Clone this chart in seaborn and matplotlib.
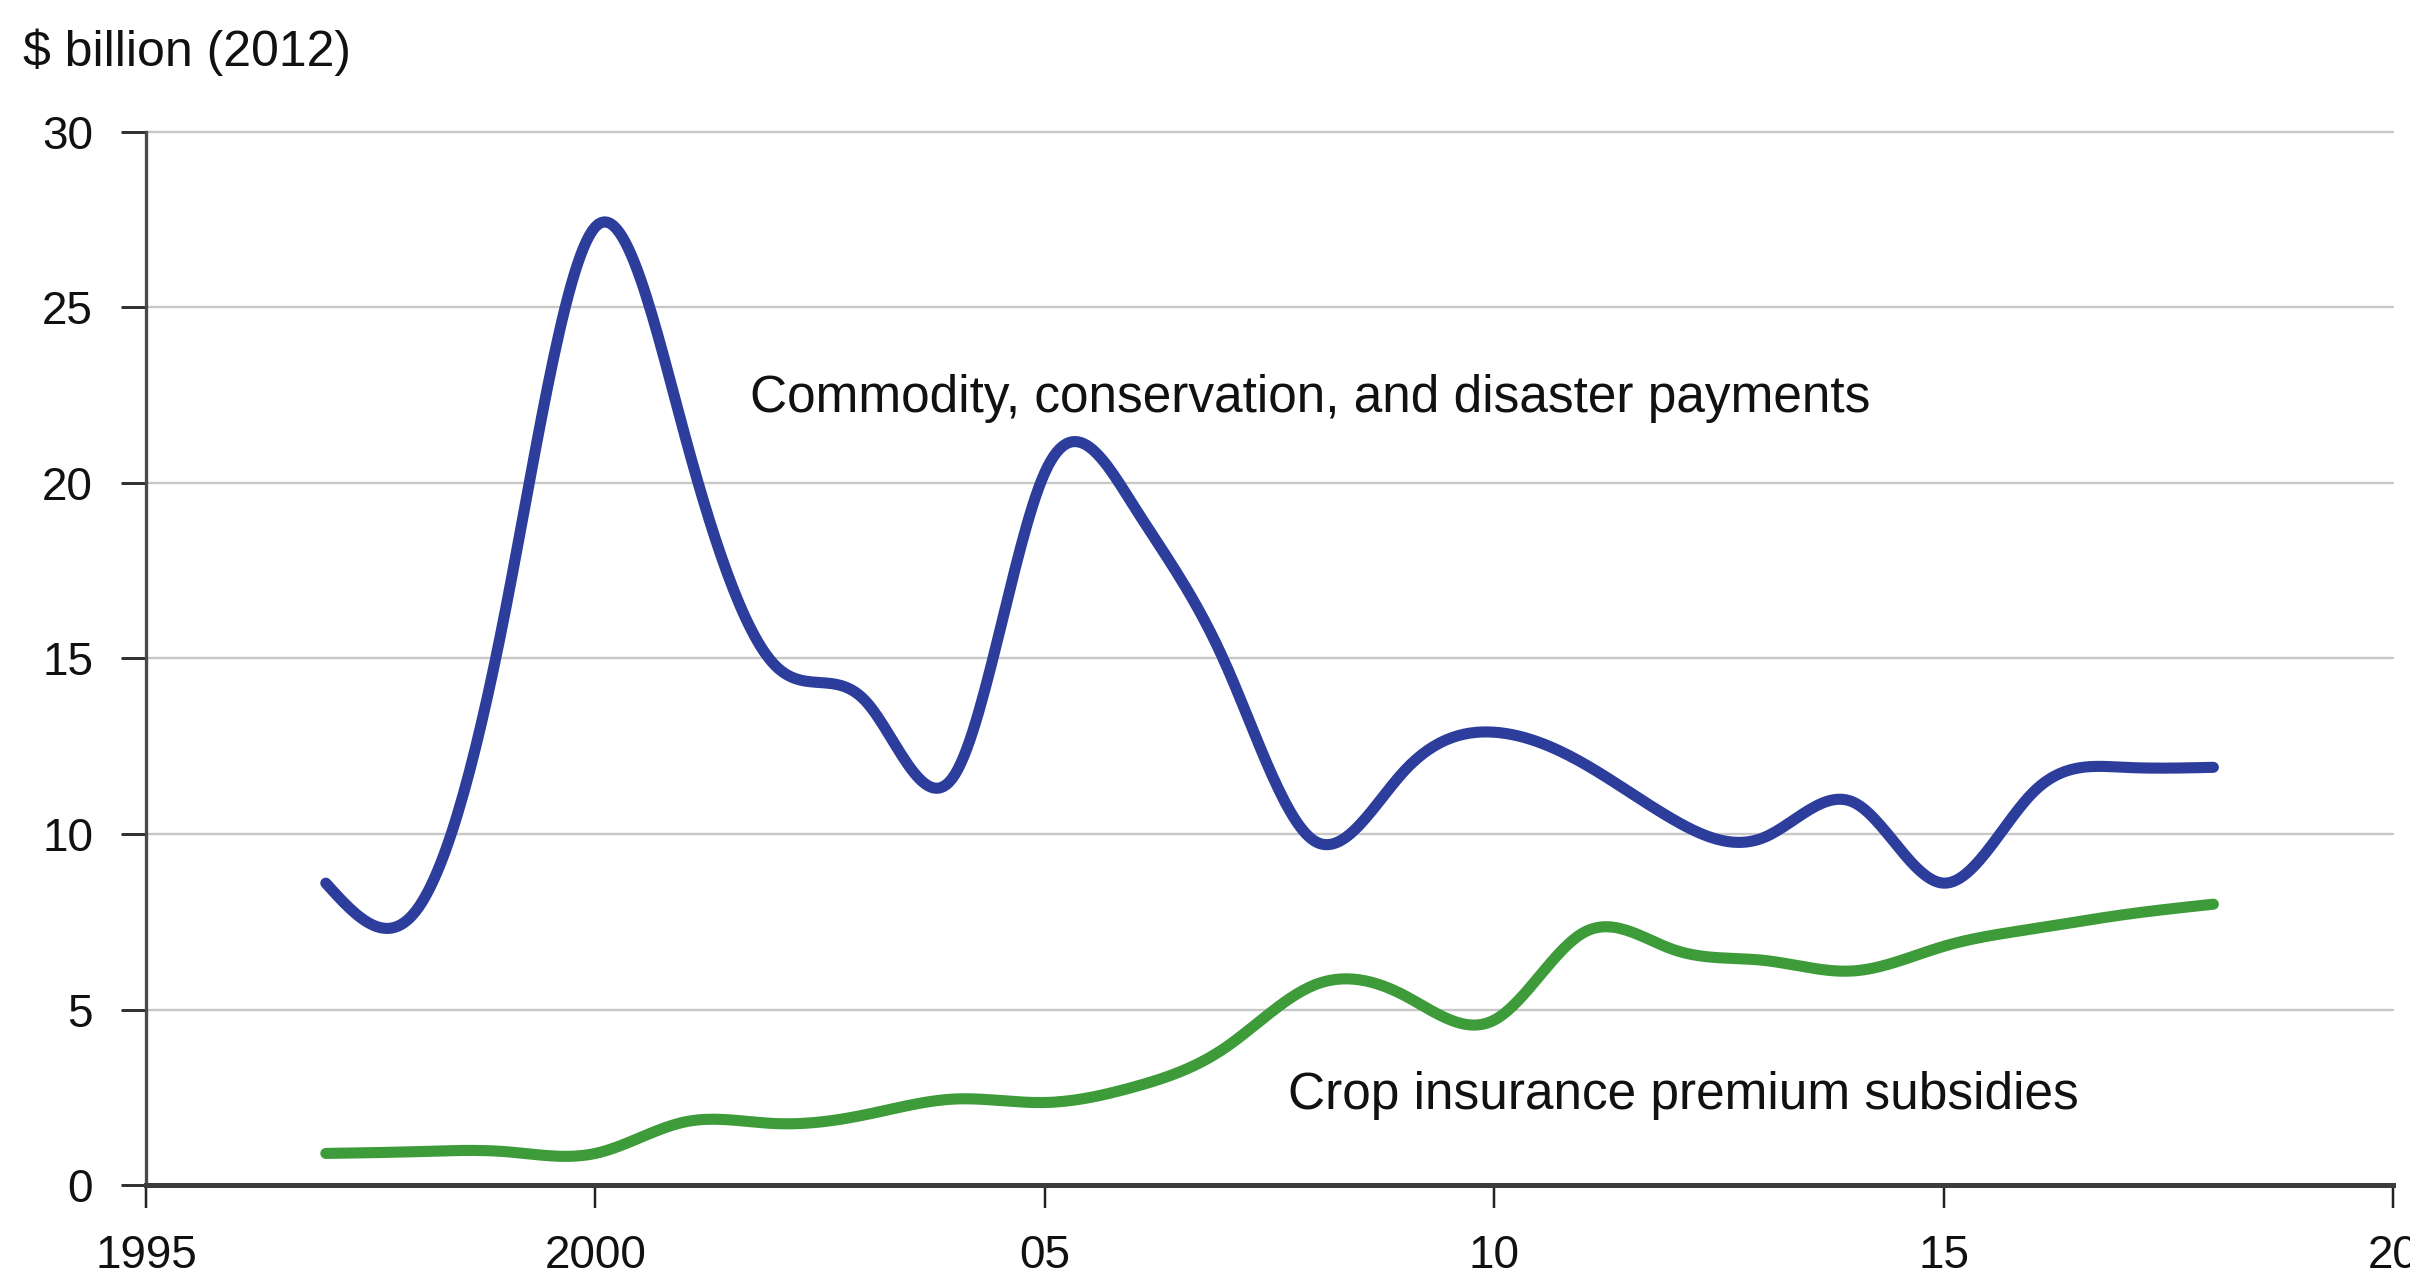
import numpy as np
import pandas as pd
import matplotlib
matplotlib.use("Agg")
import matplotlib.pyplot as plt
import seaborn as sns

# Annual values, $ billion (2012 dollars)
years = list(range(1997, 2019))
commodity = [8.6, 7.8, 16.4, 27.3, 21.3, 14.8, 13.8, 11.7, 20.3, 19.3, 14.9, 9.8,
             11.8, 12.9, 12.0, 10.4, 9.9, 10.9, 8.6, 11.2, 11.9, 11.9]
insurance = [0.9, 0.95, 0.95, 0.9, 1.8, 1.75, 2.0, 2.45, 2.35, 2.8, 3.9, 5.7,
             5.4, 4.7, 7.2, 6.7, 6.4, 6.1, 6.8, 7.3, 7.7, 8.0]
series_names = ["Commodity, conservation, and disaster payments",
                "Crop insurance premium subsidies"]
series_colors = ["#2C3D9C", "#3E9B3A"]
x_ticks = [1995, 2000, 2005, 2010, 2015, 2020]
x_tick_labels = ["1995", "2000", "05", "10", "15", "20"]
y_ticks = [0, 5, 10, 15, 20, 25, 30]

PX = 72 / 100  # pixels -> points at 100 dpi


def natural_spline(x, y, steps=30):
    """Natural cubic spline through the yearly points, for a smooth line."""
    x = np.asarray(x, float)
    y = np.asarray(y, float)
    n = len(x)
    h = np.diff(x)
    A = np.zeros((n, n))
    b = np.zeros(n)
    A[0, 0] = A[-1, -1] = 1.0
    for i in range(1, n - 1):
        A[i, i - 1] = h[i - 1]
        A[i, i] = 2 * (h[i - 1] + h[i])
        A[i, i + 1] = h[i]
        b[i] = 3 * ((y[i + 1] - y[i]) / h[i] - (y[i] - y[i - 1]) / h[i - 1])
    c = np.linalg.solve(A, b)
    xs, ys = [], []
    for i in range(n - 1):
        bi = (y[i + 1] - y[i]) / h[i] - h[i] * (2 * c[i] + c[i + 1]) / 3
        di = (c[i + 1] - c[i]) / (3 * h[i])
        t = np.linspace(0, h[i], steps, endpoint=False)
        xs.append(x[i] + t)
        ys.append(y[i] + bi * t + c[i] * t**2 + di * t**3)
    xs.append([x[-1]])
    ys.append([y[-1]])
    return np.concatenate(xs), np.concatenate(ys)


frames = []
for name, vals in zip(series_names, [commodity, insurance]):
    sx, sy = natural_spline(years, vals)
    frames.append(pd.DataFrame({"year": sx, "value": sy, "series": name}))
df = pd.concat(frames, ignore_index=True)

sns.set_theme(style="white")
plt.rcParams["font.family"] = ["Liberation Sans", "DejaVu Sans"]

fig = plt.figure(figsize=(24.1, 12.84), dpi=100)
ax = fig.add_axes([0.0606, 0.0771, 0.9324, 0.8201])

# light horizontal reference lines
for yv in y_ticks[1:]:
    ax.axhline(yv, color="#c8c8c8", lw=2.4 * PX, zorder=0, clip_on=False)

sns.lineplot(data=df, x="year", y="value", hue="series", palette=series_colors,
             hue_order=series_names, estimator=None, sort=False, linewidth=8,
             legend=False, ax=ax, zorder=3)

ax.set_xlim(1995, 2020)
ax.set_ylim(0, 30)
ax.set_xticks(x_ticks)
ax.set_xticklabels(x_tick_labels)
ax.set_yticks(y_ticks)
ax.set_xlabel("")
ax.set_ylabel("")

for side in ["top", "right"]:
    ax.spines[side].set_visible(False)
ax.spines["left"].set_color("#4a4a4a")
ax.spines["left"].set_linewidth(3.3 * PX)
ax.spines["bottom"].set_color("#3c3c3c")
ax.spines["bottom"].set_linewidth(5 * PX)
ax.spines["bottom"].set_zorder(4)

ax.tick_params(axis="y", direction="out", length=25 * PX, width=3 * PX,
               color="#333333", pad=28 * PX, labelsize=33, labelcolor="#111111",
               left=True)
ax.tick_params(axis="x", direction="out", length=23 * PX, width=2.5 * PX,
               color="#222222", pad=26 * PX, labelsize=33, labelcolor="#111111",
               bottom=True)

ax.text(2001.72, 22.4, series_names[0], fontsize=37, color="#111111",
        ha="left", va="center")
ax.text(2007.7, 2.55, series_names[1], fontsize=37, color="#111111",
        ha="left", va="center")

fig.text(23 / 2410, 1 - 52 / 1284, "$ billion (2012)", fontsize=36,
         color="#111111", ha="left", va="center")

fig.savefig("out.png", dpi=100, facecolor="white")
